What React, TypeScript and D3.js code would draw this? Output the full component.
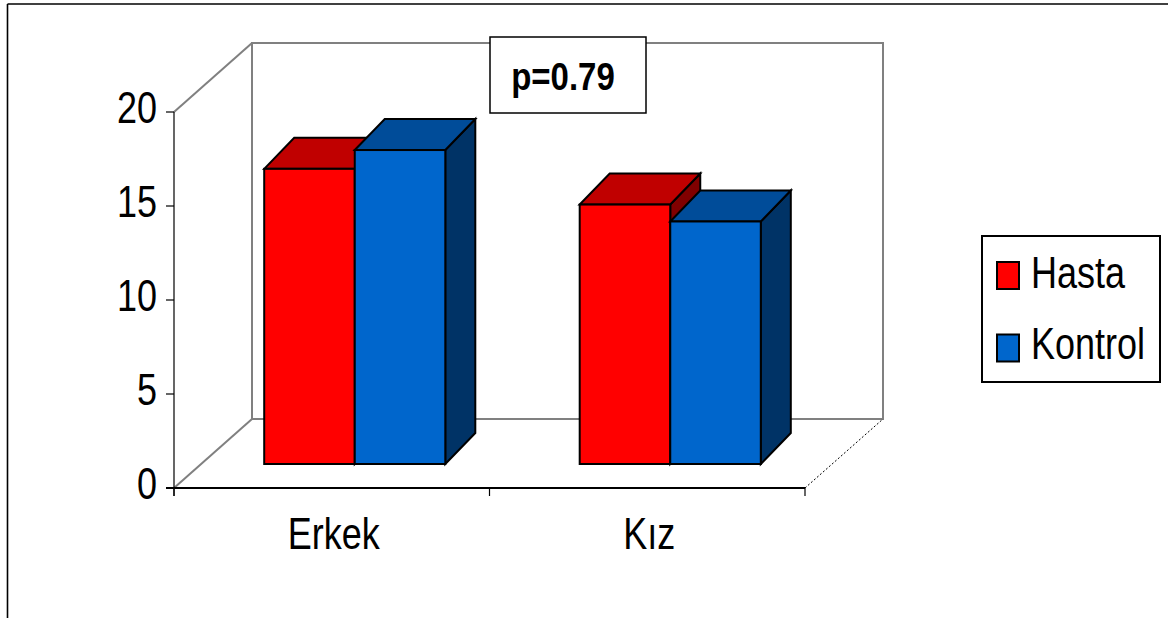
import React from "react";
import * as d3 from "d3";

// Chart data
const categories = ["Erkek", "Kız"];
const seriesNames = ["Hasta", "Kontrol"];
const hastaValues = [15.7, 13.8];
const kontrolValues = [16.7, 12.9];
const yTicks = [0, 5, 10, 15, 20];
const pLabel = "p=0.79";

const seriesValues: Record<string, number[]> = {
  Hasta: hastaValues,
  Kontrol: kontrolValues,
};

// Face / top / side shades for each series
const palette: Record<string, { front: string; top: string; side: string }> = {
  Hasta: { front: "#FF0000", top: "#C00000", side: "#800000" },
  Kontrol: { front: "#0066CC", top: "#004C99", side: "#003366" },
};

const W = 1168;
const H = 618;
const FONT = "'Liberation Sans', Arial, Helvetica, sans-serif";
const STRETCH = 1.25;

// Floor / wall geometry
const plotLeft = 174;
const plotRight = 805;
const wallDx = 78;
const wallDy = -69;
// Bars sit partway into the depth of the floor
const faceDx = 23;
const faceDy = -24;
const barDx = 30;
const barDy = -31;
const groupRatio = 0.574;

export default function App() {
  const y = d3.scaleLinear().domain([0, 20]).range([488, 112]);
  const x = d3.scaleBand<string>().domain(categories).range([plotLeft, plotRight]);
  const bw = x.bandwidth();
  const groupW = bw * groupRatio;
  const inner = d3.scaleBand<string>().domain(seriesNames).range([0, groupW]);
  const barW = inner.bandwidth();

  const y0 = y(0);
  const yTop = y(20);
  const gray = "#808080";

  const bars: React.ReactNode[] = [];
  categories.forEach((cat, ci) => {
    seriesNames.forEach((s) => {
      const v = seriesValues[s][ci];
      const x0 = (x(cat) as number) + bw / 2 - groupW / 2 + (inner(s) as number) + faceDx;
      const x1 = x0 + barW;
      const top = y(v) + faceDy;
      const bottom = y0 + faceDy;
      const c = palette[s];
      const topPts = [
        [x0, top],
        [x0 + barDx, top + barDy],
        [x1 + barDx, top + barDy],
        [x1, top],
      ];
      const sidePts = [
        [x1, top],
        [x1 + barDx, top + barDy],
        [x1 + barDx, bottom + barDy],
        [x1, bottom],
      ];
      bars.push(
        <g key={`${cat}-${s}`} stroke="#000" strokeWidth={2} strokeLinejoin="miter">
          <polygon points={sidePts.map((p) => p.join(",")).join(" ")} fill={c.side} />
          <polygon points={topPts.map((p) => p.join(",")).join(" ")} fill={c.top} />
          <rect x={x0} y={top} width={barW} height={bottom - top} fill={c.front} />
        </g>
      );
    });
  });

  const txt = (
    key: string,
    tx: number,
    ty: number,
    label: string,
    anchor: "start" | "middle" | "end",
    size = 36,
    sy = STRETCH,
    weight: number | string = "normal"
  ) => (
    <text
      key={key}
      transform={`translate(${tx},${ty}) scale(1,${sy})`}
      textAnchor={anchor}
      fontFamily={FONT}
      fontSize={size}
      fontWeight={weight}
      fill="#000"
    >
      {label}
    </text>
  );

  const backL = plotLeft + wallDx;
  const backR = plotRight + wallDx;

  return (
    <svg
      width={W}
      height={H}
      style={{ position: "absolute", left: 0, top: 0, background: "#fff" }}
    >
      <rect x={0} y={0} width={W} height={H} fill="#fff" />
      {/* outer frame */}
      <line x1={7.5} y1={4} x2={W} y2={4} stroke="#000" strokeWidth={1.6} />
      <line x1={7.5} y1={4} x2={7.5} y2={H} stroke="#000" strokeWidth={1.6} />

      {/* back wall and floor edges */}
      <g stroke={gray} strokeWidth={2} fill="none">
        <rect x={backL} y={yTop + wallDy} width={backR - backL} height={y0 - yTop} />
        <line x1={plotLeft} y1={yTop} x2={backL} y2={yTop + wallDy} />
        <line x1={plotLeft} y1={y0} x2={backL} y2={y0 + wallDy} />
      </g>
      <line
        x1={plotRight}
        y1={y0}
        x2={backR}
        y2={y0 + wallDy}
        stroke="#000"
        strokeWidth={1}
        strokeDasharray="2,2"
      />

      {/* value axis */}
      <line x1={plotLeft} y1={yTop} x2={plotLeft} y2={y0 + 8} stroke="#000" strokeWidth={1.2} />
      {yTicks.map((t) => (
        <line key={`yt${t}`} x1={plotLeft - 8} y1={y(t)} x2={plotLeft} y2={y(t)} stroke="#000" strokeWidth={1.2} />
      ))}
      {yTicks.map((t) => txt(`yl${t}`, plotLeft - 17, y(t) + 10.5, String(t), "end"))}

      {/* category axis */}
      <line x1={plotLeft - 8} y1={y0} x2={plotRight} y2={y0} stroke="#000" strokeWidth={2} />
      {[plotLeft, ...categories.map((c) => (x(c) as number) + bw), plotRight]
        .filter((v, i, a) => a.indexOf(v) === i)
        .map((tx) => (
          <line key={`xt${tx}`} x1={tx} y1={y0} x2={tx} y2={y0 + 8} stroke="#000" strokeWidth={1.2} />
        ))}
      {categories.map((c) => txt(`xl${c}`, (x(c) as number) + bw / 2 + 2, 549, c, "middle"))}

      {bars}

      {/* p-value annotation */}
      <rect x={490} y={37} width={156} height={76} fill="#fff" stroke="#000" strokeWidth={1.5} />
      {txt("p", 563, 90, pLabel, "middle", 33, 1.15, "bold")}

      {/* legend */}
      <rect x={982} y={236} width={178} height={146} fill="#fff" stroke="#000" strokeWidth={2} />
      {seriesNames.map((s, i) => (
        <g key={`lg${s}`}>
          <rect
            x={997}
            y={262 + i * 72.5}
            width={22}
            height={27}
            fill={palette[s].front}
            stroke="#000"
            strokeWidth={2}
          />
          {txt(`lt${s}`, 1031, 288 + i * 71, s, "start")}
        </g>
      ))}
    </svg>
  );
}
